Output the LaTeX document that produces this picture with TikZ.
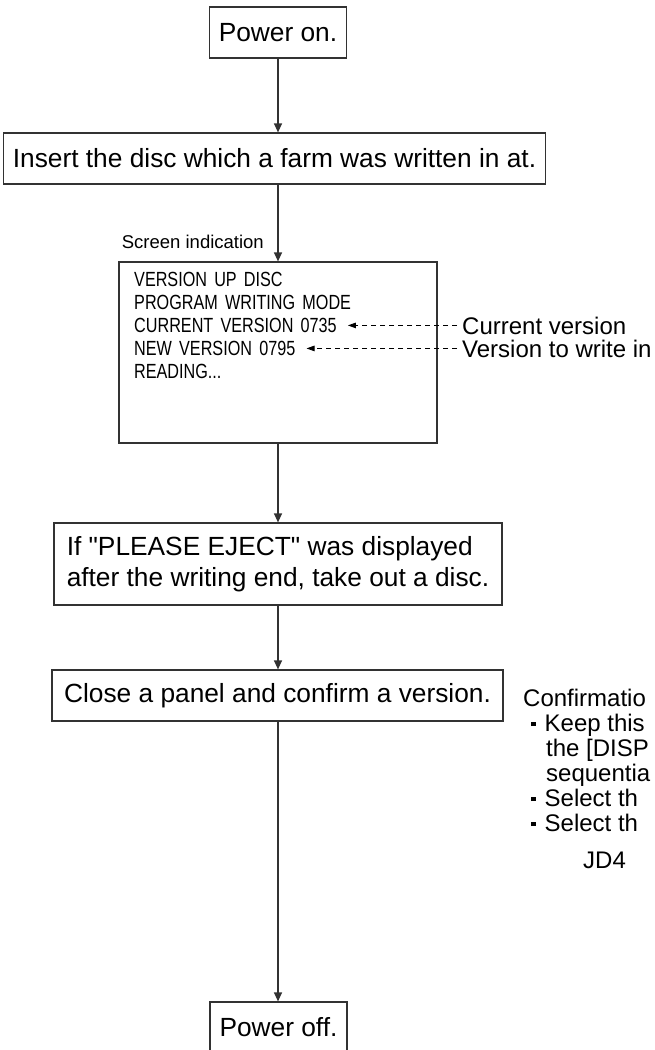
\documentclass[tikz,border=0pt]{standalone}
\usepackage{fontspec}
\setmainfont{Liberation Sans}
\newfontfamily\scrfont[FakeStretch=0.79,WordSpace=1.6]{Liberation Sans}
\usetikzlibrary{arrows.meta, positioning}
\definecolor{edge}{RGB}{50,50,50}
\newcommand{\sqbul}{\rule[5pt]{4.5pt}{4.5pt}}

\begin{document}
\begin{tikzpicture}[x=1pt, y=-1pt,
   stepbox/.style={rectangle, draw=edge, line width=1.2pt, inner xsep=9pt, inner ysep=0pt,
                   minimum height=51pt, font=\fontsize{26.3}{31}\selectfont},
   flow/.style={draw=edge, line width=1.2pt, -{Triangle[length=9pt, width=8pt]}},
   ptr/.style={draw=black, line width=0.9pt, dash pattern=on 5.5pt off 3.5pt,
               -{Triangle[length=8pt, width=5.5pt]}},
   scrline/.style={font=\scrfont\fontsize{20.5}{22}\selectfont, anchor=base west, inner sep=0pt},
   note/.style={font=\fontsize{24}{25}\selectfont, anchor=base west, inner sep=0pt}]
  \useasboundingbox (0,0) rectangle (654,1050);
  \clip (0,0) rectangle (654,1050);

  % flow boxes
  \node[stepbox, minimum width=136pt] (pon) at (278,32.5) {Power on.};
  \node[stepbox, minimum width=533pt] (ins) at (274.5,158.5)
       {Insert the disc which a farm was written in at.};
  \node[rectangle, draw=edge, line width=1.2pt, minimum width=318pt, minimum height=181pt]
       (scrn) at (278,352.5) {};
  \node[stepbox, minimum width=448pt, minimum height=82pt, align=left] (ple) at (278,564)
       {If \textquotedbl PLEASE EJECT\textquotedbl{} was displayed\\after the writing end, take out a disc.};
  \node[stepbox, minimum width=451pt] (cls) at (277.5,695.5) {Close a panel and confirm a version.};
  \node[stepbox, minimum width=137pt] (poff) at (278.5,1027.5) {Power off.};

  % screen indication
  \node[font=\fontsize{18.5}{22}\selectfont, anchor=base east, inner sep=0pt] (scrlbl)
       at (264,248) {Screen indication};
  \node[scrline] (l1) at (134,286) {VERSION UP DISC};
  \node[scrline] (l2) at (134,309) {PROGRAM WRITING MODE};
  \node[scrline] (l3) at (134,332) {CURRENT VERSION 0735};
  \node[scrline] (l4) at (134,355) {NEW VERSION 0795};
  \node[scrline] (l5) at (134,378) {READING...};
  \node[note] (curlbl) at (462,334) {Current version};
  \node[note] (verlbl) at (462,357) {Version to write in};

  % confirmation notes
  \node[note] (conf) at (523,706) {Confirmatio};
  \node[note] (kp1) at (531,731) {\sqbul\hspace{9pt}Keep this};
  \node[note] (kp2) at (546,756) {the [DISP};
  \node[note] (kp3) at (546,781) {sequentia};
  \node[note] (sel1) at (531,806) {\sqbul\hspace{9pt}Select th};
  \node[note] (sel2) at (531,831) {\sqbul\hspace{9pt}Select th};
  \node[note] (jd) at (583,868) {JD4};

  % connectors
  \draw[flow] (pon.south) -- (pon.south |- ins.north);
  \draw[flow] (pon.south |- ins.south) -- (pon.south |- scrn.north);
  \draw[flow] (scrn.south) -- (ple.north);
  \draw[flow] (ple.south) -- (ple.south |- cls.north);
  \draw[flow] (ple.south |- cls.south) -- (ple.south |- poff.north);
  \draw[ptr, shorten <=5pt, shorten >=11pt] (curlbl.west) -- (curlbl.west -| l3.east);
  \draw[ptr, shorten <=5pt, shorten >=11pt] (verlbl.west) -- (verlbl.west -| l4.east);
\end{tikzpicture}
\end{document}
